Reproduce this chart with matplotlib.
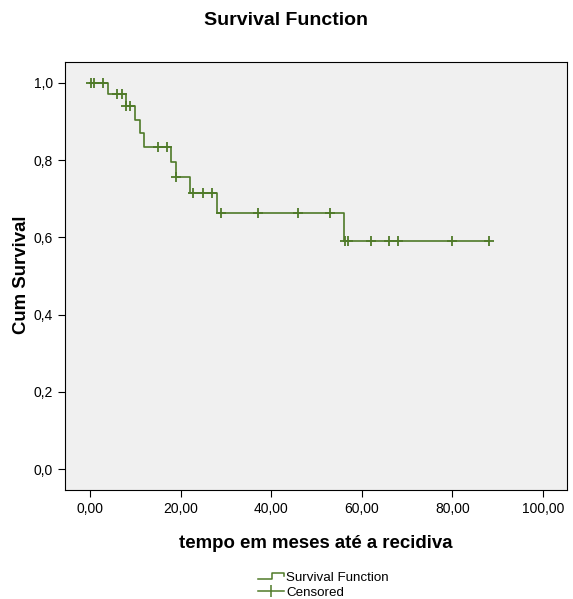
import numpy as np
import matplotlib
matplotlib.use("Agg")
import matplotlib.pyplot as plt
from matplotlib.lines import Line2D
from matplotlib.legend_handler import HandlerBase

plt.rcParams['font.family'] = ['Liberation Sans', 'DejaVu Sans']

# Kaplan-Meier step curve (event times and survival after each event)
step_times = [0, 4, 8, 10, 11, 12, 18, 19, 22, 28, 56, 88]
step_surv = [1.0, 0.971, 0.941, 0.904, 0.871, 0.835, 0.796, 0.756, 0.714, 0.664, 0.591, 0.591]

# censored observations
cens_times = [0.2, 1.0, 3.0, 6.0, 7.0, 8.0, 8.8, 15.0, 17.0, 18.9, 22.8, 25.0, 27.0,
              29.0, 37.0, 46.0, 53.0, 56.3, 57.0, 62.0, 66.0, 68.0, 80.0, 88.0]
cens_surv = [1.0, 1.0, 1.0, 0.971, 0.971, 0.941, 0.941, 0.835, 0.835, 0.756, 0.714, 0.714, 0.714,
             0.664, 0.664, 0.664, 0.664, 0.591, 0.591, 0.591, 0.591, 0.591, 0.591, 0.591]

xticks = [0, 20, 40, 60, 80, 100]
xtick_labels = ["0,00", "20,00", "40,00", "60,00", "80,00", "100,00"]
yticks = [0.0, 0.2, 0.4, 0.6, 0.8, 1.0]
ytick_labels = ["0,0", "0,2", "0,4", "0,6", "0,8", "1,0"]

color = "#4f7a28"


class StepHandler(HandlerBase):
    # draws a little "_|‾" step like the SPSS legend
    def create_artists(self, legend, orig_handle, xdescent, ydescent,
                       width, height, fontsize, trans):
        x0, x1 = -xdescent, -xdescent + width
        xm = x0 + width * 0.55
        ylo, yhi = -ydescent + height * 0.2, -ydescent + height * 0.85
        ln = Line2D([x0, xm, xm, x1, x1], [ylo, ylo, yhi, yhi, yhi - height * 0.3],
                    color=color, lw=1.1, transform=trans)
        return [ln]


fig = plt.figure(figsize=(5.73, 5.99), dpi=100)
ax = fig.add_axes([0.1134, 0.182, 0.8761, 0.7145])
ax.set_facecolor("#f0f0f0")

ax.step(step_times, step_surv, where="post", color=color, lw=1.2)
ax.plot(cens_times, cens_surv, linestyle="none", marker="|", markersize=6.5,
        markeredgewidth=1.3, color=color)
ax.plot(cens_times, cens_surv, linestyle="none", marker="_", markersize=6.5,
        markeredgewidth=1.3, color=color)

ax.set_xlim(-5.5, 105.3)
ax.set_ylim(-0.054, 1.054)
ax.set_xticks(xticks)
ax.set_xticklabels(xtick_labels)
ax.set_yticks(yticks)
ax.set_yticklabels(ytick_labels)
ax.tick_params(direction="out", length=5, labelsize=10, colors="black")
for s in ax.spines.values():
    s.set_color("black")
    s.set_linewidth(0.8)

fig.text(0.5, 0.966, "Survival Function", ha="center", va="center",
         fontsize=14, fontweight="bold")
ax.set_xlabel("tempo em meses até a recidiva", fontsize=13.4, fontweight="bold", labelpad=14)
fig.text(22 / 573, 1 - 275 / 599, "Cum Survival", rotation=90, ha="center", va="center",
         fontsize=13.4, fontweight="bold")

# legend below the plot
handles = [
    Line2D([], [], color=color, lw=1.1),
    Line2D([], [], color=color, lw=1.1, marker="|", markersize=9, markeredgewidth=1.1),
]
fig.legend(handles, ["Survival Function", "Censored"], loc="center",
           bbox_to_anchor=(0.565, 0.023), frameon=False, fontsize=9.6,
           handlelength=1.9, handletextpad=0.2, labelspacing=0.15,
           handler_map={handles[0]: StepHandler()})

fig.savefig("out.png", dpi=100)
